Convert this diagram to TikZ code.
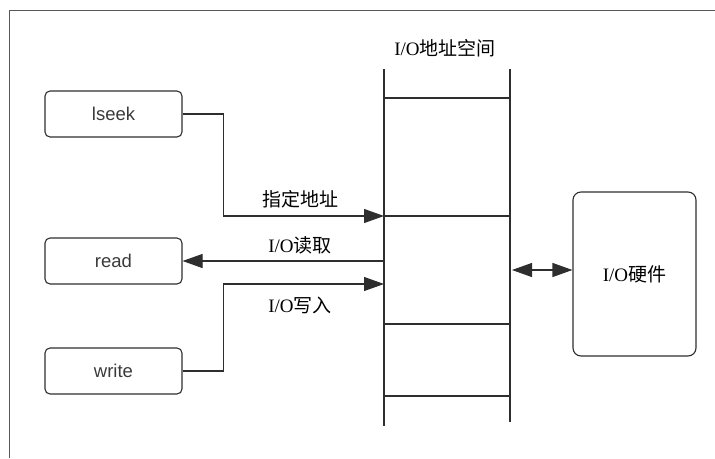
\documentclass[tikz,border=0pt]{standalone}
\usepackage{fontspec}
\setmainfont{Liberation Serif}
\setsansfont{Liberation Sans}
\newfontfamily\cjk{Noto Sans CJK SC}
\usetikzlibrary{arrows.meta}
\definecolor{linegray}{HTML}{2E2E2E}
\definecolor{textgray}{HTML}{3A3A3A}
\newcommand{\lblfont}{\fontsize{19}{19}\selectfont}
\tikzset{
  callbox/.style={draw=linegray, line width=1.1pt, rounded corners=5pt,
    minimum width=137pt, minimum height=46pt, inner sep=0pt,
    font=\sffamily\fontsize{18.5}{18.5}\selectfont, text=textgray},
  hwbox/.style={draw=linegray, line width=1.1pt, rounded corners=8pt,
    minimum width=123pt, minimum height=164pt, inner sep=0pt, font=\lblfont},
  flow/.style={draw=linegray, line width=1.1pt},
  tip/.style={-{Triangle[length=20pt,width=14pt]}},
  lbl/.style={font=\lblfont, inner sep=0pt}
}

\begin{document}
\begin{tikzpicture}[x=1pt,y=-1pt]
\useasboundingbox (0,0) rectangle (715,458);
% frame
\draw[draw=linegray!80, line width=1pt] (9,458) -- (9,10) -- (715,10);

% user calls
\node[callbox] (lseek) at (113.5,114) {lseek};
\node[callbox] (read) at (113.5,261) {read};
\node[callbox] (write) at (113.5,371) {write};

% I/O address space
\node[lbl] (space) at (445,48) {I/O{\cjk 地址空间}};
\draw[flow] (384,69) -- (384,426);
\draw[flow] (510,69) -- (510,422);
\foreach \y in {98,216,324,396}
  \draw[flow] (384,\y) -- (510,\y);
\coordinate (addr) at (384,216);
\coordinate (rdport) at (384,261);
\coordinate (wrport) at (384,284);
\coordinate (bus) at (512,270);

% hardware
\node[hwbox] (hw) at (634.5,274) {I/O{\cjk 硬件}};

% connectors
\draw[flow,tip] (lseek.east) -- ++(41,0) |- (addr);
\draw[flow,tip] (rdport) -- (read.east);
\draw[flow,tip] (write.east) -- ++(41,0) |- (wrport);
\draw[flow,{Triangle[length=20pt,width=14pt]}-{Triangle[length=20pt,width=14pt]}] (bus) -- (bus -| hw.west);

\node[lbl] (setaddr) at (300.5,199) {\cjk 指定地址};
\node[lbl] (iord) at (300,245) {I/O{\cjk 读取}};
\node[lbl] (iowr) at (300,305) {I/O{\cjk 写入}};
\end{tikzpicture}
\end{document}
